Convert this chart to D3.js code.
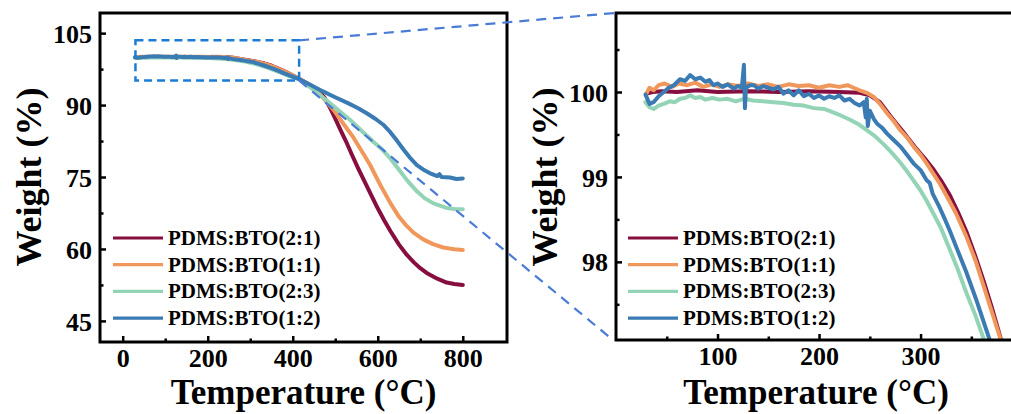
<!DOCTYPE html>
<html><head><meta charset="utf-8">
<script src="https://cdn.jsdelivr.net/npm/d3@7"></script>
<style>
html,body{margin:0;padding:0;background:#fff;}
svg{display:block;}
text{font-family:"Liberation Serif","Times New Roman",serif;font-weight:bold;fill:#000;}
</style></head>
<body>
<svg id="chart" width="1011" height="414"></svg>
<script>
// ---------------- data ----------------
const seriesNames = ["PDMS:BTO(2:1)", "PDMS:BTO(1:1)", "PDMS:BTO(2:3)", "PDMS:BTO(1:2)"];
const seriesColors = ["#870f40", "#f0975c", "#93d3b6", "#3b7bb3"];

// [temperature °C, weight %]
const pdms21 = [[30,99.98],[36,100.0],[45,100.01],[60,100.0],[80,100.02],[100,100.0],[130,100.01],[160,100.0],[190,100.01],[220,100.0],[240,99.99],[250,99.96],[260,99.88],[270,99.72],[283,99.53],[296,99.33],[304,99.22],[312,99.1],[320,98.96],[329,98.78],[337,98.58],[345,98.36],[353,98.1],[362,97.78],[370,97.47],[377,97.18],[395,96.4],[415,95.5],[440,94.2],[460,93.0],[475,91.5],[488,89.4],[500,87.2],[515,84.3],[527,82.1],[540,79.5],[555,76.6],[578,72.4],[598,68.8],[615,66.0],[630,63.7],[650,60.9],[668,58.8],[685,57.2],[700,56.0],[715,55.0],[740,53.8],[762,53.0],[780,52.7],[800,52.5]];
const pdms11 = [[30,99.98],[33,100.05],[37,100.02],[42,100.08],[48,100.1],[55,100.06],[62,100.1],[70,100.08],[78,100.11],[86,100.06],[94,100.09],[102,100.06],[110,100.09],[120,100.07],[130,100.1],[140,100.07],[150,100.09],[160,100.06],[170,100.09],[180,100.07],[190,100.08],[200,100.05],[210,100.08],[220,100.06],[228,100.08],[234,100.05],[240,100.02],[247,99.99],[254,99.94],[260,99.86],[267,99.75],[274,99.65],[280,99.55],[287,99.46],[293,99.36],[300,99.26],[306,99.16],[313,99.03],[319,98.92],[326,98.77],[335,98.57],[345,98.3],[354,98.02],[362,97.72],[370,97.42],[378,97.12],[395,96.4],[415,95.5],[440,94.0],[460,92.6],[480,90.6],[496,89.0],[520,86.0],[543,83.2],[565,80.0],[582,77.5],[605,73.5],[630,69.5],[650,66.7],[668,64.8],[684,63.4],[707,62.0],[730,61.0],[754,60.3],[780,59.95],[800,59.8]];
const pdms23 = [[29,99.88],[33,99.82],[37,99.8],[42,99.84],[47,99.86],[53,99.89],[58,99.88],[63,99.92],[68,99.93],[73,99.96],[78,99.93],[83,99.94],[88,99.91],[95,99.93],[102,99.91],[110,99.92],[118,99.89],[126,99.92],[135,99.9],[145,99.89],[155,99.88],[165,99.87],[175,99.85],[185,99.84],[195,99.81],[205,99.8],[214,99.76],[222,99.72],[231,99.67],[239,99.62],[247,99.55],[255,99.48],[264,99.38],[272,99.28],[280,99.17],[287,99.06],[293,98.96],[300,98.84],[306,98.72],[313,98.56],[320,98.4],[329,98.14],[337,97.9],[345,97.64],[354,97.37],[362,97.1],[370,96.82],[390,96.1],[415,95.4],[450,93.1],[490,90.2],[535,86.9],[560,84.8],[590,82.3],[610,80.8],[630,78.8],[650,76.5],[670,74.2],[690,72.2],[710,70.6],[731,69.5],[760,68.6],[780,68.35],[800,68.3]];
const pdms12 = [[29,99.97],[33,99.86],[37,99.88],[42,99.95],[47,100.0],[52,100.05],[57,100.08],[63,100.15],[68,100.13],[73,100.2],[78,100.15],[83,100.17],[88,100.12],[92,100.14],[96,100.08],[100,100.1],[105,100.06],[110,100.09],[116,100.04],[120,100.07],[124,100.05],[126,100.32],[127,99.81],[128,100.05],[132,100.08],[136,100.08],[140,100.04],[145,100.07],[150,100.05],[155,100.03],[160,100.06],[165,99.98],[170,100.02],[175,99.96],[180,100.02],[185,99.95],[190,99.98],[195,99.93],[200,99.96],[205,99.92],[210,99.95],[215,99.93],[220,99.96],[225,99.9],[230,99.92],[235,99.87],[240,99.84],[244,99.88],[246,99.7],[247,99.92],[248,99.6],[250,99.78],[254,99.68],[257,99.63],[262,99.58],[267,99.51],[273,99.44],[280,99.36],[286,99.27],[293,99.16],[300,99.08],[306,98.96],[309,98.93],[312,98.8],[318,98.66],[324,98.5],[329,98.36],[336,98.15],[345,97.88],[355,97.55],[367,97.12],[380,96.6],[415,95.4],[440,94.3],[470,92.9],[496,91.8],[530,90.4],[555,89.3],[574,88.3],[595,87.1],[613,85.9],[630,84.3],[645,82.6],[660,80.8],[675,79.1],[692,77.5],[710,76.4],[725,75.7],[740,75.2],[745,75.6],[750,75.0],[770,74.9],[785,74.6],[800,74.7]];
const seriesData = [pdms21, pdms11, pdms23, pdms12];

const leftXTicks = [0, 200, 400, 600, 800];
const leftXMinor = [100, 300, 500, 700];
const leftYTicks = [45, 60, 75, 90, 105];
const leftYMinor = [52.5, 67.5, 82.5, 97.5];
const rightXTicks = [100, 200, 300];
const rightXMinor = [50, 150, 250, 350];
const rightYTicks = [98, 99, 100];
const rightYMinor = [97.5, 98.5, 99.5, 100.5];
const zoomBox = {t0: 30, t1: 415, w0: 95.1, w1: 103.5};
const xTitle = "Temperature (°C)";
const yTitle = "Weight (%)";

// ---------------- layout ----------------
const svg = d3.select("#chart");
const L = {left: 100, right: 507, top: 13, bottom: 342};
const R = {left: 616, right: 1016, top: 13, bottom: 340};

const xL = d3.scaleLinear().domain([-53.4, 904]).range([L.left, L.right]);
const yL = d3.scaleLinear().domain([40.6, 109.2]).range([L.bottom, L.top]);
const xR = d3.scaleLinear().domain([0, 394]).range([R.left, R.right]);
const yR = d3.scaleLinear().domain([97.08, 100.93]).range([R.bottom, R.top]);

const defs = svg.append("defs");
defs.append("clipPath").attr("id", "clipL").append("rect")
  .attr("x", L.left).attr("y", L.top).attr("width", L.right - L.left).attr("height", L.bottom - L.top);
defs.append("clipPath").attr("id", "clipR").append("rect")
  .attr("x", R.left).attr("y", R.top).attr("width", R.right - R.left).attr("height", R.bottom - R.top);

function panel(P, x, y, clip, xt, xm, yt, ym, lw, legX) {
  const g = svg.append("g");
  const plot = g.append("g").attr("clip-path", `url(#${clip})`);
  const line = d3.line().x(d => x(d[0])).y(d => y(d[1])).curve(d3.curveLinear);
  seriesData.forEach((s, i) => {
    plot.append("path").datum(s).attr("d", line)
      .attr("fill", "none").attr("stroke", seriesColors[i])
      .attr("stroke-width", lw).attr("stroke-linejoin", "round").attr("stroke-linecap", "round");
  });
  // axes (inward ticks)
  const xAxis = g.append("g").attr("transform", `translate(0,${P.bottom})`)
    .call(d3.axisBottom(x).tickValues(xt).tickSize(-6).tickPadding(0).tickFormat(d3.format("d")));
  xAxis.select(".domain").remove();
  xAxis.selectAll("line").attr("stroke", "#000").attr("stroke-width", 2.5);
  xAxis.selectAll("text").attr("y", 25).attr("dy", 0).style("font-size", "26px");
  g.append("g").attr("transform", `translate(0,${P.bottom})`)
    .call(d3.axisBottom(x).tickValues(xm).tickSize(-3.5).tickFormat(""))
    .call(a => a.select(".domain").remove())
    .selectAll("line").attr("stroke", "#000").attr("stroke-width", 2.5);
  const yAxis = g.append("g").attr("transform", `translate(${P.left},0)`)
    .call(d3.axisLeft(y).tickValues(yt).tickSize(-6).tickPadding(8).tickFormat(d3.format("d")));
  yAxis.select(".domain").remove();
  yAxis.selectAll("line").attr("stroke", "#000").attr("stroke-width", 2.5);
  yAxis.selectAll("text").attr("dy", "0.35em").style("font-size", "26px");
  g.append("g").attr("transform", `translate(${P.left},0)`)
    .call(d3.axisLeft(y).tickValues(ym).tickSize(-3.5).tickFormat(""))
    .call(a => a.select(".domain").remove())
    .selectAll("line").attr("stroke", "#000").attr("stroke-width", 2.5);
  svg.selectAll(".tick text").attr("font-family", null);
  // frame
  g.append("rect").attr("x", P.left).attr("y", P.top)
    .attr("width", P.right - P.left).attr("height", P.bottom - P.top)
    .attr("fill", "none").attr("stroke", "#000").attr("stroke-width", 3);
  // titles
  g.append("text").attr("x", (P.left + P.right) / 2).attr("y", 404)
    .attr("text-anchor", "middle").style("font-size", "35px").text(xTitle);
  g.append("text").attr("transform", `translate(${P.left - 59},${177}) rotate(-90)`)
    .attr("text-anchor", "middle").style("font-size", "36px").text(yTitle);
  // legend
  const lg = g.append("g");
  seriesNames.forEach((n, i) => {
    const by = 245 + i * 26.7;
    lg.append("line").attr("x1", legX).attr("x2", legX + 50).attr("y1", by - 7).attr("y2", by - 7)
      .attr("stroke", seriesColors[i]).attr("stroke-width", 3.2);
    lg.append("text").attr("x", legX + 55).attr("y", by).style("font-size", "21px").text(n);
  });
}

panel(L, xL, yL, "clipL", leftXTicks, leftXMinor, leftYTicks, leftYMinor, 4, 113);
panel(R, xR, yR, "clipR", rightXTicks, rightXMinor, rightYTicks, rightYMinor, 4, 628);

// zoom box and connectors
const bx0 = xL(zoomBox.t0), bx1 = xL(zoomBox.t1), by0 = yL(zoomBox.w1), by1 = yL(zoomBox.w0);
svg.append("rect").attr("x", bx0).attr("y", by0).attr("width", bx1 - bx0).attr("height", by1 - by0)
  .attr("fill", "none").attr("stroke", "#1b7cd6").attr("stroke-width", 2.5).attr("stroke-dasharray", "8,5");
svg.append("line").attr("x1", bx1).attr("y1", by0).attr("x2", R.left - 1).attr("y2", R.top)
  .attr("stroke", "#4a7bd6").attr("stroke-width", 2.2).attr("stroke-dasharray", "10,7");
svg.append("line").attr("x1", bx1).attr("y1", by1).attr("x2", R.left - 3).attr("y2", R.bottom)
  .attr("stroke", "#4a7bd6").attr("stroke-width", 2.2).attr("stroke-dasharray", "10,7");
</script>
</body></html>
